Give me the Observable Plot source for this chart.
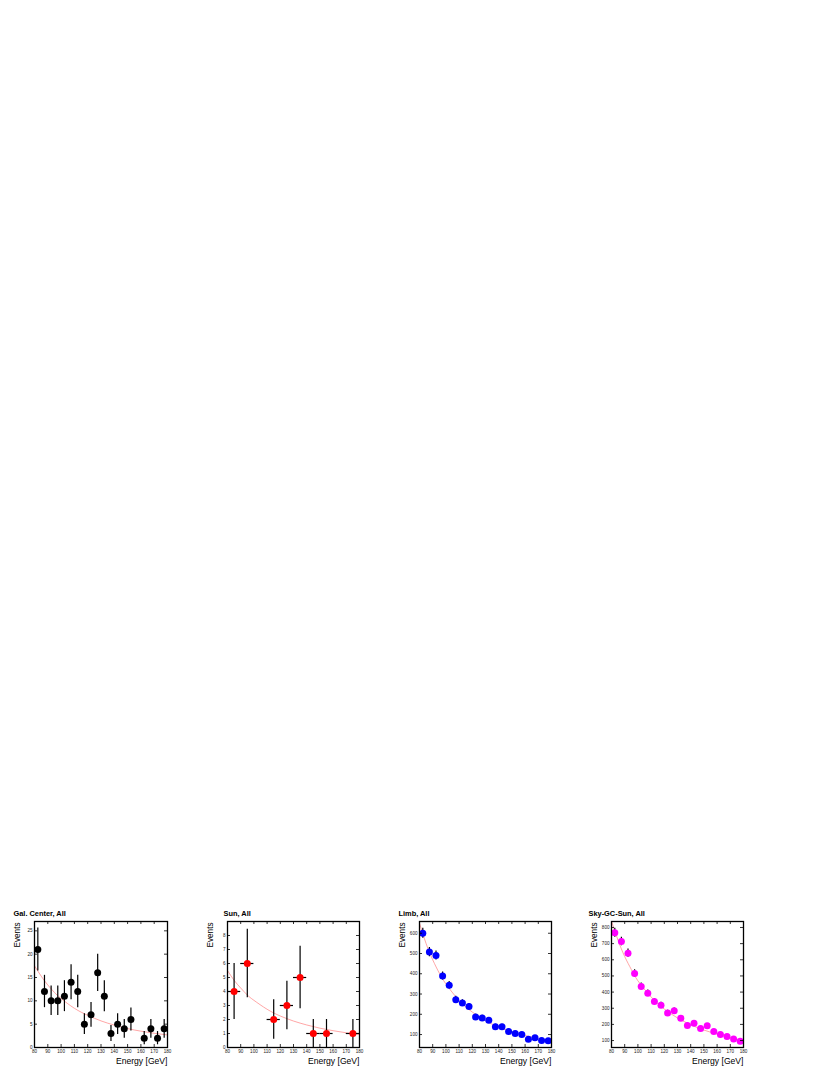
<!DOCTYPE html>
<html><head><meta charset="utf-8">
<script src="https://cdn.jsdelivr.net/npm/d3@7"></script>
<script src="https://cdn.jsdelivr.net/npm/@observablehq/plot@0.6"></script>
<style>
body{margin:0;background:#fff}
#row{position:absolute;top:901px;left:0;display:flex}
#row svg{display:block}
</style>
</head><body><div id="row"></div>
<script>
// ---- data ----
const energies5 = [82.5,87.5,92.5,97.5,102.5,107.5,112.5,117.5,122.5,127.5,132.5,137.5,142.5,147.5,152.5,157.5,162.5,167.5,172.5,177.5];
const gcCounts = [21,12,10,10,11,14,12,5,7,16,11,3,5,4,6,0,2,4,2,4];
const sunEnergies = [85,95,105,115,125,135,145,155,165,175];
const sunCounts = [4,6,0,2,3,5,1,1,0,1];
const limbCounts = [600,507,490,389,343,272,256,238,187,182,170,139,139,115,105,100,77,84,70,69];
const skyCounts = [767,713,641,515,435,393,342,319,271,284,238,193,207,174,191,156,137,125,110,96];

const curveE = [80,85,90,95,100,110,120,130,140,150,160,170,180];
const gcFit   = [17.5,15.3,13.4,11.8,10.5,8.4,6.9,5.7,4.8,4.05,3.5,3.05,2.7];
const sunFit  = [5.5,4.8,4.25,3.75,3.37,2.73,2.25,1.89,1.61,1.38,1.2,1.05,0.93];
const limbFit = [650,549,469,403,350,268,211,168,137,113,95,80,68];
const skyFit  = [840,720,620,540,470,370,295,240,198,165,140,118,100];

const xTicks = [80,90,100,110,120,130,140,150,160,170,180];
const gcYTicks = [0,5,10,15,20,25];
const sunYTicks = [0,1,2,3,4,5,6,7,8];
const limbYTicks = [100,200,300,400,500,600];
const skyYTicks = [100,200,300,400,500,600,700,800];

const W = 192, H = 170, mT = 20, mB = 24, mR = 25;

function panel(opt) {
  const fw = W - opt.mL - mR, fh = H - mT - mB;
  const pts = opt.energies.map((e, i) => ({e, n: opt.counts[i]})).filter(d => d.n > 0);
  const curve = curveE.map((e, i) => ({e, v: opt.fit[i]}));
  return Plot.plot({
    width: W, height: H,
    marginTop: mT, marginBottom: mB, marginLeft: opt.mL, marginRight: mR,
    x: {domain: [80, 180], axis: null},
    y: {domain: opt.yDomain, axis: null},
    style: {fontFamily: "'Liberation Sans', Arial, sans-serif", fontSize: "4.5px", background: "white", overflow: "visible", color: "black"},
    marks: [
      Plot.line(curve, {x: "e", y: "v", stroke: "#ff8080", strokeWidth: 0.7, curve: "natural", clip: true}),
      Plot.ruleX(pts, {x: "e", y1: d => d.n - Math.sqrt(d.n), y2: d => d.n + Math.sqrt(d.n), stroke: "black", strokeWidth: 1.2, clip: true}),
      opt.halfWidth ? Plot.ruleY(pts, {y: "n", x1: d => d.e - opt.halfWidth, x2: d => d.e + opt.halfWidth, stroke: "black", strokeWidth: 1.2}) : null,
      Plot.dot(pts, {x: "e", y: "n", r: 3.5, fill: opt.color, stroke: null}),
      Plot.ruleX(xTicks, {x: d => d, insetTop: fh - 3, stroke: "black", strokeWidth: 0.8}),
      Plot.ruleX(xTicks, {x: d => d, insetBottom: fh - 3, stroke: "black", strokeWidth: 0.8}),
      Plot.ruleY(opt.yTicks, {y: d => d, insetRight: fw - 3, stroke: "black", strokeWidth: 0.8}),
      Plot.ruleY(opt.yTicks, {y: d => d, insetLeft: fw - 3, stroke: "black", strokeWidth: 0.8}),
      Plot.text(xTicks, {x: d => d, frameAnchor: "bottom", dy: 5, text: d => d, fontSize: 4.6, fill: "#222"}),
      Plot.text(opt.yTicks, {y: d => d, frameAnchor: "left", dx: -2, textAnchor: "end", text: d => d, fontSize: 4.6, fill: "#222"}),
      Plot.frame({stroke: "black", strokeWidth: 1.3}),
      Plot.text([opt.title], {frameAnchor: "top-left", dx: opt.titleDx, dy: -10.7, textAnchor: "start", fontWeight: "bold", fontSize: 7.4, fill: "black", text: d => d}),
      Plot.text(["Events"], {frameAnchor: "top-left", dx: -20, dy: 1, rotate: -90, textAnchor: "end", fontSize: 8.2, fill: "black", text: d => d}),
      Plot.text(["Energy [GeV]"], {frameAnchor: "bottom-right", dy: 16, textAnchor: "end", fontSize: 8.6, fill: "black", text: d => d})
    ]
  });
}

const row = document.getElementById("row");
row.append(panel({mL: 34, energies: energies5, counts: gcCounts, fit: gcFit, color: "black", yDomain: [0, 27], yTicks: gcYTicks, title: "Gal. Center, All", titleDx: -21}));
row.append(panel({mL: 35, energies: sunEnergies, counts: sunCounts, fit: sunFit, color: "#ff0000", yDomain: [0, 9], yTicks: sunYTicks, title: "Sun, All", titleDx: -4, halfWidth: 5}));
row.append(panel({mL: 35, energies: energies5, counts: limbCounts, fit: limbFit, color: "#0000ff", yDomain: [36, 658], yTicks: limbYTicks, title: "Limb, All", titleDx: -21}));
row.append(panel({mL: 35, energies: energies5, counts: skyCounts, fit: skyFit, color: "#ff00ff", yDomain: [57, 837], yTicks: skyYTicks, title: "Sky-GC-Sun, All", titleDx: -23}));
</script>
</body></html>
